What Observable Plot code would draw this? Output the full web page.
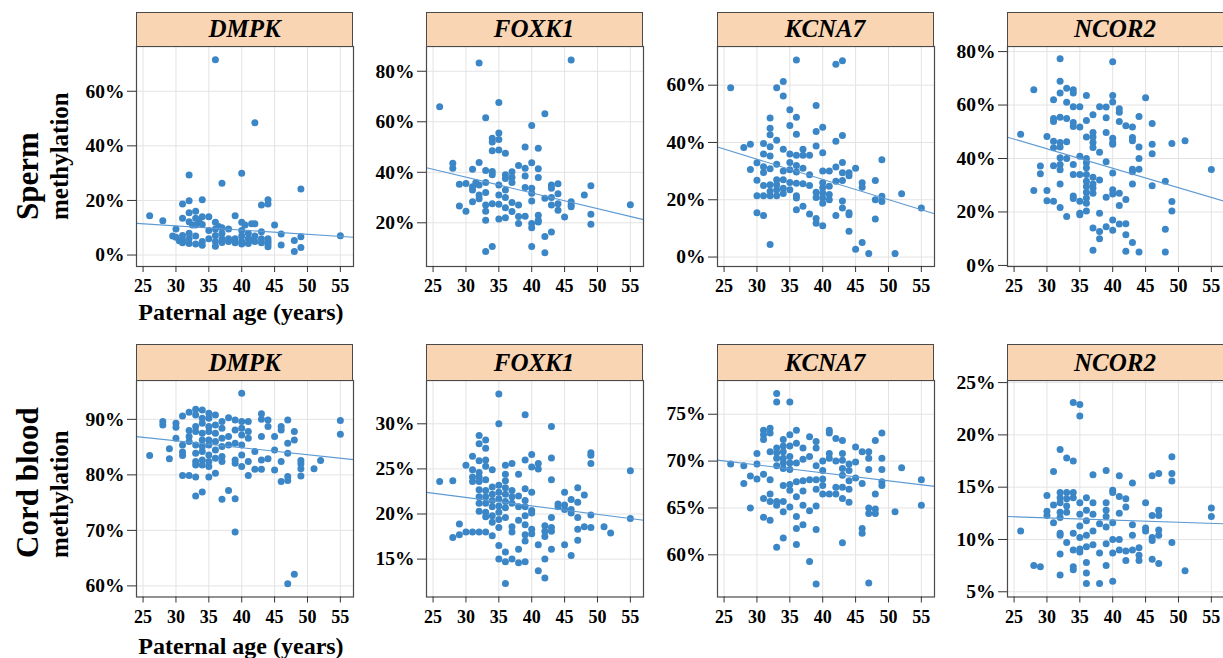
<!DOCTYPE html>
<html><head><meta charset="utf-8">
<script src="https://cdn.jsdelivr.net/npm/d3@7"></script>
<script src="https://cdn.jsdelivr.net/npm/@observablehq/plot@0.6"></script>
<style>
html,body{margin:0;padding:0;background:#fff;overflow:hidden;width:1223px;height:658px}
#root{position:relative;width:1223px;height:658px;overflow:hidden}
.strip{position:absolute;box-sizing:border-box;border:1px solid #4a4a4a;background:#f9d5b3;font:italic bold 25px "Liberation Serif",serif;color:#000;display:flex;align-items:center;justify-content:center}
</style></head><body><div id="root"></div><script>
// ---------- data: [paternal age (years), methylation (%)] ----------
const genes = ["DMPK", "FOXK1", "KCNA7", "NCOR2"];
const rowNames = [["Sperm", "methylation"], ["Cord blood", "methylation"]];
const xLabel = "Paternal age (years)";
const ageTicks = [25, 30, 35, 40, 45, 50, 55];

const spermDMPK = [[26,14.4],[28,12.6],[29.5,7],[30,9.5],[30,6.5],[30.5,5.2],[31,18.7],[31,13.5],[31,7.2],[31,5.5],[31,4.5],[32,29.3],[32,19.9],[32,15.5],[32,12.2],[32,8],[32,6],[32,4.2],[32.5,11],[33,16],[33,13.5],[33,11],[33,7],[33,4],[33.5,12.5],[34,20.3],[34,14],[34,11.2],[34,5],[34,3.6],[35,14],[35,9],[35,6],[36,71.5],[36,12],[36,9.5],[36,7.2],[36,5],[36,3.2],[36.5,10.5],[37,26.3],[37,10],[37,8],[37,6],[37,4.6],[38,9.5],[38,6],[38,5],[39,14.4],[39,6],[39,4.5],[40,30],[40,12],[40,9],[40,7],[40,5],[40,4],[40.5,11],[41,8],[41,6],[41,4.2],[41.5,11.5],[41.5,5.5],[42,48.5],[42,11.5],[42,7],[42,5],[43,18.3],[43,8.5],[43,6],[43,4.5],[44,20.3],[44,18.7],[44,6],[44,5],[44,4],[44,3],[45,11],[46,7.7],[46,3.7],[48,5.3],[48,1.3],[49,24.2],[49,6.7],[49,2.8],[55,7.1]];
const spermFOXK1 = [[26,65.9],[28,43.6],[28,41.6],[29,35.3],[29,26.7],[30,35.6],[30,24.6],[31,41.2],[31,34.3],[31,33],[31,28.3],[31.5,36],[32,83.3],[32,43.9],[32,35],[32,31],[32,29.5],[33,61.6],[33,40.7],[33,36],[33,32],[33,27],[33,24.6],[33,21],[33,8.6],[34,53.5],[34,52],[34,48.5],[34,40.3],[34,39],[34,27.5],[34,10.6],[35,67.6],[35,55.6],[35,53],[35,48.8],[35,35],[35,31],[35,27.3],[35,21.5],[36,47.5],[36,39],[36,37.5],[36,33],[36,30],[36,26],[36,22],[37,40.2],[37,38],[37,36],[37,28],[37,24.5],[38,42.7],[38,27],[38,22.5],[38,19.7],[39,50],[39,41.6],[39,38.5],[39,34],[39,22.6],[40,58.5],[40,43.8],[40,33.7],[40,31.7],[40,28.6],[40,19.7],[40,18],[40,10.6],[41,49.5],[41,41.4],[41,37.9],[41,23],[41,21],[41,20.3],[42,63.2],[42,29.7],[42,14.6],[42,8.1],[43,35],[43,33.7],[43,30],[43,27],[43,16.4],[44,35.5],[44,31.5],[44,27.5],[44,25],[45,22.3],[46,84.5],[46,28.3],[46,27],[46,26.4],[48,31],[49,34.7],[49,23.4],[49,19.4],[55,27.1]];
const spermKCNA7 = [[26,59.1],[28,38.2],[29,39.4],[29,30.6],[30,32.9],[30,26.8],[30,21.4],[30,15.5],[31,39.6],[31,36],[31,31.5],[31,29.5],[31,25],[31,21.4],[31,14.5],[32,48.5],[32,45],[32,42.7],[32,38.5],[32,35.3],[32,30.8],[32,25.2],[32,23],[32,21.4],[32,4.4],[33,59.1],[33,40.8],[33,32.4],[33,27],[33,25.2],[33,23.5],[33,21.4],[34,61.3],[34,56.2],[34,37.6],[34,30],[34,27],[34,24],[34,22.2],[35,51.4],[35,45.9],[35,36],[35,33],[35,30.5],[35,26],[35,23.5],[36,68.8],[36,48.8],[36,42.9],[36,35.5],[36,32],[36,29.7],[36,25.8],[36,21.4],[36,20.6],[36,16.5],[37,37.6],[37,35.5],[37,31],[37,25.6],[37,17.7],[38,35.5],[38,28.7],[38,25],[38,15],[39,52.9],[39,43.8],[39,38.8],[39,22.6],[39,20.8],[39,13.5],[39,11.8],[40,45.3],[40,36.4],[40,30],[40,25.9],[40,24.2],[40,22.4],[40,20.6],[40,18.8],[40,10.9],[41,30],[41,24.7],[41,21.8],[41,20],[42,67.3],[42,40.4],[42,31.4],[42,26.5],[42,14.5],[43,68.5],[43,42.4],[43,33],[43,29.4],[43,26.7],[43,19.6],[43,17.1],[44,29.4],[44,28.4],[44,15.5],[44,14.8],[44,9],[45,31],[45,2.7],[46,25.9],[46,24.4],[46,5.1],[47,1.2],[48,26.7],[48,20],[48,13.3],[49,34],[49,21.2],[49,19.4],[51,1.2],[52,22.1],[55,17.1]];
const spermNCOR2 = [[26,49.1],[28,65.7],[28,28],[29,37.2],[29,34.3],[30,48.2],[30,28],[30,24.2],[31,62],[31,55],[31,53.8],[31,46.5],[31,44],[31,37.3],[31,24],[32,77.3],[32,68.9],[32,64.5],[32,55.4],[32,46],[32,44.3],[32,40.3],[32,37.8],[32,35.8],[32,30.5],[32,21.7],[33,66.3],[33,61],[33,55],[33,46.3],[33,40],[33,18.3],[34,65.7],[34,64.5],[34,59.4],[34,53.5],[34,52],[34,37.8],[34,34],[34,26],[34,25],[35,59.4],[35,51.8],[35,40.8],[35,34],[35,24],[35,19.5],[35,19],[36,63.6],[36,54.2],[36,48],[36,40],[36,38.4],[36,36.5],[36,34],[36,31.5],[36,29.5],[36,27.4],[36,25.2],[36,23.3],[36,20.4],[37,56.4],[37,49.7],[37,48],[37,46],[37,44.1],[37,33],[37,30.5],[37,29],[37,27],[37,14],[37,5.7],[38,59.4],[38,42.3],[38,32],[38,19.5],[38,12.7],[38,10],[39,59.3],[39,55.2],[39,49.7],[39,38.8],[39,25.5],[39,14.5],[40,76.2],[40,63.6],[40,61.1],[40,47.6],[40,46],[40,45.3],[40,34.6],[40,28.3],[40,26.7],[40,17],[40,13.2],[41,58.6],[41,57.3],[41,53.8],[41,27],[41,22.4],[41,15.5],[42,52.3],[42,24.7],[42,15.6],[42,11.5],[42,5.3],[43,51.8],[43,47.9],[43,46.6],[43,36],[43,35],[43,30.5],[43,8.6],[44,55.7],[44,44.3],[44,40],[44,36],[44,5],[45,62.7],[46,53.1],[46,45.3],[46,41.8],[46,29.8],[48,31.5],[48,13.5],[48,5],[49,45.6],[49,23.9],[49,20.4],[51,46.6],[55,35.9]];
const cordDMPK = [[26,83.5],[28,89.6],[28,89],[29,84.7],[29,82.9],[30,89.3],[30,88.6],[30,86.6],[31,90.6],[31,85.4],[31,84.1],[31,83.5],[31,79.9],[32,91.3],[32,88],[32,86.9],[32,86],[32,79.9],[33,91.8],[33,90.8],[33,88.7],[33,87.8],[33,85.4],[33,83.9],[33,82.4],[33,81.8],[33,79.6],[33,76.2],[34,91.7],[34,90.2],[34,89.3],[34,87.5],[34,86.3],[34,85.1],[34,84.2],[34,82.7],[34,81.8],[34,76.9],[35,91.1],[35,90.2],[35,88.7],[35,87.8],[35,86.3],[35,85.4],[35,83.6],[35,82.4],[35,81.5],[35,79.6],[36,90.8],[36,89],[36,87.5],[36,86],[36,84.5],[36,83],[36,80.3],[37,89.6],[37,88.4],[37,86.6],[37,85.1],[37,83.3],[37,82.4],[37,75.6],[38,90.3],[38,86.9],[38,85.4],[38,77.2],[39,89.9],[39,88.1],[39,85.7],[39,82.7],[39,82.1],[39,75.7],[39,69.7],[40,94.7],[40,89.6],[40,88.4],[40,87.2],[40,85.4],[40,83.6],[40,81.5],[41,89.6],[41,87.8],[41,86.6],[41,82.4],[41,79.9],[42,84.2],[42,81],[43,91],[43,90],[43,86.9],[43,82.7],[43,81],[44,89.9],[44,88.7],[44,82.9],[45,86.9],[45,84.5],[45,80.9],[46,88.7],[46,88.1],[46,82.4],[46,78.8],[47,89.9],[47,85.7],[47,83.9],[47,79.7],[47,79],[47,60.4],[48,87.8],[48,86.3],[48,62.1],[49,82.6],[49,82],[49,81.1],[49,79.8],[51,81.1],[52,82.6],[55,89.8],[55,87.3]];
const cordFOXK1 = [[26,23.6],[28,23.7],[28,17.4],[29,18.9],[29,17.7],[30,25.4],[30,18],[31,26.4],[31,24.9],[31,24.1],[31,23.6],[31,18],[32,28.7],[32,27.8],[32,25.9],[32,24.6],[32,24.1],[32,23.6],[32,22.7],[32,21.9],[32,21.2],[32,20.3],[32,18],[33,28.2],[33,27.3],[33,26],[33,25.3],[33,23.8],[33,22.6],[33,21.9],[33,21.2],[33,20.2],[33,19.7],[33,18],[34,24.9],[34,23],[34,22.2],[34,21.5],[34,20.8],[34,19.8],[34,19.1],[34,17.6],[35,33.3],[35,30],[35,23.2],[35,22.4],[35,21.7],[35,20.9],[35,20.2],[35,19.4],[35,18.5],[35,16.5],[35,15],[36,25.4],[36,24.4],[36,23.7],[36,22.9],[36,22.2],[36,21.4],[36,20.7],[36,19.6],[36,15.8],[36,14.7],[36,12.3],[37,25.6],[37,22.6],[37,21.9],[37,21.2],[37,18.6],[37,18],[37,15],[38,24.4],[38,22],[38,20.8],[38,19.3],[38,16.1],[38,14.6],[39,31],[39,26],[39,22.8],[39,21.5],[39,20.8],[39,19.8],[39,18.8],[39,17.7],[39,17],[39,14.7],[40,26.6],[40,25.2],[40,22.4],[40,20.4],[40,20.1],[40,18.3],[40,17.8],[41,25.6],[41,25],[41,16.6],[41,13.7],[42,18.7],[42,18.1],[42,17.5],[42,15],[42,12.9],[43,29.7],[43,26.2],[43,23.8],[43,19.6],[43,18.5],[43,18.1],[43,16.1],[44,21.1],[44,20.8],[45,22.4],[45,21],[45,20.5],[45,16.6],[46,21.6],[46,20.5],[46,20.1],[46,15.4],[47,22.9],[47,21.3],[47,19.6],[47,18.3],[47,17.1],[48,22.1],[48,18.6],[49,26.8],[49,26.5],[49,25.6],[49,19.9],[49,18.5],[51,18.6],[52,17.9],[55,24.8],[55,19.5]];
const cordKCNA7 = [[26,69.7],[28,69.5],[28,67.6],[29,68.4],[29,65],[30,70.8],[30,69.7],[30,68.1],[31,73.3],[31,72.8],[31,72.3],[31,68.6],[31,66],[31,64],[32,73.5],[32,73],[32,71],[32,68],[32,66.5],[32,65.7],[32,63.7],[33,77.2],[33,76.3],[33,71.4],[33,70.9],[33,70.3],[33,69.5],[33,65.7],[33,65.3],[33,60.8],[34,72.3],[34,71.6],[34,71],[34,70.3],[34,69.8],[34,69.2],[34,67.4],[34,65.7],[34,64.6],[34,61.8],[35,76.3],[35,72.8],[35,71.6],[35,70.5],[35,69.8],[35,69.1],[35,67.5],[35,66.9],[35,65.1],[36,73.3],[36,71.9],[36,69.8],[36,67.8],[36,66.2],[36,64.1],[36,62.8],[36,61.1],[37,71.4],[37,70.2],[37,67.9],[37,66.8],[37,65.3],[37,63.2],[38,72.6],[38,70.5],[38,68],[38,64.7],[38,59.3],[39,72.1],[39,71.4],[39,69.5],[39,68],[39,67],[39,65.2],[39,62.7],[39,56.9],[40,70],[40,69],[40,68.1],[40,67.4],[40,66.5],[41,73.3],[41,73],[41,70.8],[41,70.3],[41,66.5],[42,72.4],[42,70],[42,67.2],[42,66.5],[43,72.2],[43,70.8],[43,70.1],[43,69.2],[43,68.5],[43,67.2],[43,66],[43,61.3],[44,69.7],[44,69],[44,67.9],[44,67],[44,65.6],[45,71.5],[45,69.9],[45,68.2],[46,71],[46,67.6],[46,62.8],[46,62.3],[47,71],[47,70.3],[47,69.1],[47,65],[47,64.4],[47,57],[48,72.2],[48,66.5],[48,64.9],[48,64.4],[49,73],[49,70.3],[49,69.1],[49,67.8],[49,67.4],[51,64.6],[52,69.3],[55,68],[55,65.3]];
const cordNCOR2 = [[26,10.8],[28,7.5],[29,7.4],[30,14.2],[30,12.7],[30,12.3],[31,16.5],[31,13.3],[31,11.6],[32,18.6],[32,14.5],[32,14],[32,13.5],[32,12.6],[32,12.1],[32,10.6],[32,10.4],[32,8.6],[32,6.6],[33,17.8],[33,14.5],[33,13.9],[33,13.2],[33,12.6],[33,9.7],[34,23.1],[34,17.5],[34,14.5],[34,14],[34,10.6],[34,9],[34,7.4],[34,7.1],[35,22.9],[35,21.8],[35,13.5],[35,12.4],[35,11.3],[35,10.2],[35,9.1],[35,8.8],[36,14],[36,12.8],[36,11.8],[36,10.4],[36,9.3],[36,7.8],[36,6.8],[36,5.8],[37,16.2],[37,13.5],[37,12.4],[37,10.8],[37,9.5],[38,11.5],[38,8.7],[38,5.8],[39,16.6],[39,13.5],[39,12.8],[39,12.2],[39,11.2],[39,9.6],[39,7.5],[40,14.7],[40,14.5],[40,11.6],[40,10],[40,8.7],[40,6],[41,16.1],[41,14.1],[41,12.5],[41,10],[41,9],[42,13.9],[42,13.1],[42,8.9],[42,8],[43,15.4],[43,11.4],[43,10.4],[43,9],[44,9.2],[44,8.5],[44,8],[45,13.5],[45,11.1],[45,10.8],[46,16.1],[46,12.3],[46,10.2],[46,9.9],[46,8.1],[47,16.3],[47,12.8],[47,12.3],[47,10.9],[47,10.4],[47,7.7],[49,17.9],[49,16.3],[49,15.6],[49,9.7],[51,7],[55,13],[55,12.2]];

// fitted trend lines: [value at age 25, value at age 55]
const spermTrends = [[11.46, 6.8], [41.2, 22.5], [37.7, 16.5], [47.25, 25.45]];
const cordTrends = [[86.77, 83.0], [22.3, 19.5], [70.02, 67.47], [12.17, 11.54]];

// y-axis tick values (%) per panel
const spermTicks = [[0, 20, 40, 60], [20, 40, 60, 80], [0, 20, 40, 60], [0, 20, 40, 60, 80]];
const cordTicks = [[60, 70, 80, 90], [15, 20, 25, 30], [60, 65, 70, 75], [5, 10, 15, 20, 25]];
const spermDomains = [[-4.2, 76.4], [2.7, 89.8], [-3.3, 73.5], [-0.4, 81.9]];
const cordDomains = [[58, 97], [10.8, 34.8], [55.5, 78.6], [4.5, 25.2]];

// ---------- layout ----------
const root = document.getElementById("root");
const ageDomain = [24, 57];
const colLeft = [136, 425.5, 716.5, 1006.5];
const frameW = 217;
const rows = [
  {data: [spermDMPK, spermFOXK1, spermKCNA7, spermNCOR2], trends: spermTrends, ticks: spermTicks, domains: spermDomains,
   stripTop: 11.5, frameTop: 46, frameBottom: 266, labelBase: 220, xLabBase: 320},
  {data: [cordDMPK, cordFOXK1, cordKCNA7, cordNCOR2], trends: cordTrends, ticks: cordTicks, domains: cordDomains,
   stripTop: 344, frameTop: 380, frameBottom: 596.5, labelBase: 558, xLabBase: 653.5}
];
const ML = 72, MR = 6, MT = 1, MB = 36;

rows.forEach((row, ri) => {
  genes.forEach((gene, ci) => {
    const left = colLeft[ci];
    const h = row.frameBottom - row.frameTop;
    const t = row.trends[ci];
    const slope = (t[1] - t[0]) / 30;
    const trend = ageDomain.map(a => ({age: a, value: t[0] + slope * (a - 25)}));
    const chart = Plot.plot({
      width: ML + frameW + MR, height: MT + h + MB,
      marginLeft: ML, marginRight: MR, marginTop: MT, marginBottom: MB,
      style: {fontFamily: '"Liberation Serif", serif', fontWeight: "bold", fontSize: "18px", color: "#000", background: "transparent", overflow: "visible"},
      x: {domain: ageDomain},
      y: {domain: row.domains[ci]},
      marks: [
        Plot.gridX(ageTicks, {stroke: "#e3e3e3", strokeOpacity: 1}),
        Plot.gridY(row.ticks[ci], {stroke: "#e3e3e3", strokeOpacity: 1}),
        Plot.dot(row.data[ci], {x: d => d[0], y: d => d[1], r: 3.5, fill: "#3b86c6"}),
        Plot.line(trend, {x: "age", y: "value", stroke: "#5d9ad3", strokeWidth: 1.1}),
        Plot.frame({stroke: "#4a4a4a", strokeWidth: 1.2}),
        Plot.axisX(ageTicks, {tickSize: 6, tickPadding: 7, fontSize: 18, label: null, stroke: "#333"}),
        Plot.axisY(row.ticks[ci], {tickSize: 9, tickPadding: 3, fontSize: 19.5, label: null, tickFormat: d => d + "%", stroke: "#333"})
      ]
    });
    chart.style.position = "absolute";
    chart.style.left = (left - ML) + "px";
    chart.style.top = (row.frameTop - MT) + "px";
    root.append(chart);

    const strip = document.createElement("div");
    strip.className = "strip";
    strip.style.left = left + "px";
    strip.style.top = row.stripTop + "px";
    strip.style.width = frameW + "px";
    strip.style.height = (row.frameTop - row.stripTop + 1) + "px";
    strip.textContent = gene;
    root.append(strip);
  });
});

// row titles and x-axis titles
const svg = d3.select(root).append("svg")
  .attr("width", 1223).attr("height", 658)
  .style("position", "absolute").style("left", 0).style("top", 0).style("pointer-events", "none")
  .style("font-family", '"Liberation Serif", serif').style("font-weight", "bold").style("fill", "#000");
rows.forEach((row, ri) => {
  svg.append("text").attr("transform", `translate(38,${row.labelBase}) rotate(-90)`)
    .attr("font-size", 31).text(rowNames[ri][0]);
  svg.append("text").attr("transform", `translate(68,${row.labelBase}) rotate(-90)`)
    .attr("font-size", 25).text(rowNames[ri][1]);
  svg.append("text").attr("x", 241).attr("y", row.xLabBase).attr("text-anchor", "middle")
    .attr("font-size", 24).text(xLabel);
});
</script></body></html>
